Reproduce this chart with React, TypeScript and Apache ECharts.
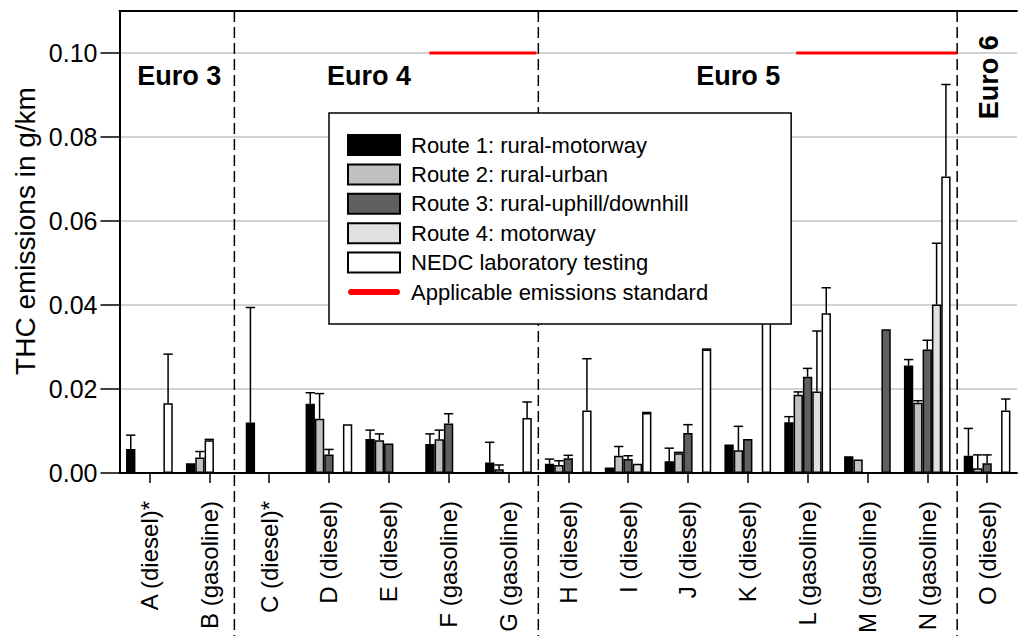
import React, { useEffect, useRef } from "react";
import * as echarts from "echarts";

// Vehicles tested (x-axis categories)
const categories = [
  "A (diesel)*", "B (gasoline)", "C (diesel)*", "D (diesel)", "E (diesel)",
  "F (gasoline)", "G (gasoline)", "H (diesel)", "I (diesel)", "J (diesel)",
  "K (diesel)", "L (gasoline)", "M (gasoline)", "N (gasoline)", "O (diesel)",
];

const seriesNames = [
  "Route 1: rural-motorway",
  "Route 2: rural-urban",
  "Route 3: rural-uphill/downhill",
  "Route 4: motorway",
  "NEDC laboratory testing",
];
const standardName = "Applicable emissions standard";

// Mean THC emissions in g/km (null = not measured)
const route1 = [0.0057, 0.0023, 0.012, 0.0165, 0.0081, 0.0069, 0.0025, 0.0022, 0.0013, 0.0028, 0.0068, 0.0121, 0.004, 0.0256, 0.0041];
const route2 = [null, 0.0037, null, 0.0129, 0.0078, 0.008, 0.0009, 0.0019, 0.0041, 0.0047, 0.0054, 0.0186, 0.0032, 0.0167, 0.0011];
const route3 = [null, 0.0078, null, 0.0044, 0.007, 0.0118, null, 0.0035, 0.0033, 0.0095, 0.0081, 0.0229, null, 0.0294, 0.0023];
const route4 = [null, null, null, null, null, null, null, null, 0.0022, null, null, 0.0194, null, 0.0401, null];
const nedc = [0.0166, null, null, 0.0116, null, null, 0.0131, 0.0149, 0.0143, 0.0294, 0.0466, 0.038, 0.0342, 0.0706, 0.0149];

// Upper end of the error bars in g/km (null = no error bar)
const route1Err = [0.009, null, 0.0394, 0.0191, 0.0102, 0.0093, 0.0073, 0.0033, null, 0.0059, null, 0.0134, null, 0.027, 0.0106];
const route2Err = [null, 0.0051, null, 0.0189, 0.0093, 0.0102, 0.0019, 0.0029, 0.0063, 0.0049, 0.0111, 0.0193, null, 0.0172, 0.0043];
const route3Err = [null, 0.008, null, 0.0056, null, 0.0141, null, 0.0042, 0.0041, 0.0115, null, 0.0249, null, 0.0316, 0.0043];
const route4Err = [null, null, null, null, null, null, null, null, null, null, null, 0.0338, null, 0.0547, null];
const nedcErr = [0.0283, null, null, null, null, null, 0.0169, 0.0272, 0.0144, 0.0295, 0.0623, 0.0441, null, 0.0925, 0.0176];

// Bars shaded with another route's fill: [series index, category index, fill series index]
const fillSwaps = [
  [2, 1, 4],
  [4, 12, 2],
];

// Emission class boundaries and limit segments, in category units
const euroBoundaries = [1.92, 7, 14];
const standardLimit = 0.1;
const standardSegments = [
  [5.18, 6.97],
  [11.31, 14.0],
];
const euroLabels = ["Euro 3", "Euro 4", "Euro 5", "Euro 6"];
const euroLabelAt = [
  [1.0, 0.0946, 0],
  [4.17, 0.0946, 0],
  [10.34, 0.0946, 0],
  [14.54, 0.0942, 90],
];

const yTicks = [0, 0.02, 0.04, 0.06, 0.08, 0.1];
const Y_MAX = 0.11;

const FONT = '"Liberation Sans", Arial, Helvetica, sans-serif';
const fills = ["#000000", "#c0c0c0", "#606060", "#e0e0e0", "#ffffff"];
const CATEGORY_GAP = 0.22;

// Legend glyph for the limit: a thick horizontal bar with rounded ends, centred in a 52x20 box
const LIMIT_ICON =
  "path://M0,0L0,0M52,20L52,20M3,7L49,7C51,7 52,8.5 52,10C52,11.5 51,13 49,13L3,13C1,13 0,11.5 0,10C0,8.5 1,7 3,7Z";

export default function App() {
  const ref = useRef<HTMLDivElement>(null);

  useEffect(() => {
    if (!ref.current) return;
    const chart = echarts.init(ref.current, null, { renderer: "svg" });

    const values = [route1, route2, route3, route4, nedc];
    const errors = [route1Err, route2Err, route3Err, route4Err, nedcErr];

    const barSeries = values.map((arr, s) => ({
      name: seriesNames[s],
      type: "bar",
      xAxisIndex: 0,
      yAxisIndex: 0,
      barGap: "0%",
      barCategoryGap: `${CATEGORY_GAP * 100}%`,
      itemStyle: { color: fills[s], borderColor: "#000", borderWidth: 1.5 },
      emphasis: { disabled: true },
      z: 3,
      data: arr.map((v, i) => {
        if (v === null) return "-";
        const swap = fillSwaps.find((f) => f[0] === s && f[1] === i);
        return swap ? { value: v, itemStyle: { color: fills[swap[2]] } } : v;
      }),
    }));

    const errData: number[][] = [];
    values.forEach((arr, s) => {
      arr.forEach((v, i) => {
        const e = errors[s][i];
        if (v !== null && e !== null) errData.push([i, s, v, e]);
      });
    });

    const errorSeries = {
      type: "custom",
      xAxisIndex: 0,
      yAxisIndex: 0,
      z: 4,
      silent: true,
      encode: { x: 0, y: [2, 3] },
      data: errData,
      renderItem: (_params: any, api: any) => {
        const cat = api.value(0);
        const slot = api.value(1);
        const v = api.value(2);
        const e = api.value(3);
        const band = api.size([1, 0])[0];
        const bw = (band * (1 - CATEGORY_GAP)) / values.length;
        const base = api.coord([cat, v]);
        const cx = base[0] + (slot - (values.length - 1) / 2) * bw;
        const yv = base[1];
        const ye = api.coord([cat, e])[1];
        const st = { stroke: "#000", lineWidth: 1.5 };
        return {
          type: "group",
          children: [
            { type: "line", shape: { x1: cx, y1: yv, x2: cx, y2: ye }, style: st },
            { type: "line", shape: { x1: cx - bw / 2, y1: ye, x2: cx + bw / 2, y2: ye }, style: st },
          ],
        };
      },
    };

    const boundarySeries = {
      type: "custom",
      xAxisIndex: 1,
      yAxisIndex: 0,
      z: 1,
      clip: false,
      silent: true,
      encode: { x: 0 },
      data: euroBoundaries.map((b) => [b]),
      renderItem: (_params: any, api: any) => {
        const x = api.coord([api.value(0), 0])[0];
        const top = api.coord([api.value(0), Y_MAX])[1];
        return {
          type: "line",
          shape: { x1: x, y1: top, x2: x, y2: api.getHeight() },
          style: { stroke: "#000", lineWidth: 1.5, lineDash: [11, 5] },
        };
      },
    };

    const labelSeries = {
      type: "custom",
      xAxisIndex: 1,
      yAxisIndex: 0,
      z: 5,
      silent: true,
      encode: { x: 0, y: 1 },
      data: euroLabelAt.map((p) => [p[0], p[1], p[2]]),
      renderItem: (params: any, api: any) => {
        const pt = api.coord([api.value(0), api.value(1)]);
        return {
          type: "text",
          x: pt[0],
          y: pt[1],
          rotation: (api.value(2) * Math.PI) / 180,
          style: {
            text: euroLabels[params.dataIndex],
            fontFamily: FONT,
            fontWeight: "bold",
            fontSize: 27,
            fill: "#000",
            align: "center",
            verticalAlign: "middle",
            textAlign: "center",
            textVerticalAlign: "middle",
          },
        };
      },
    };

    const standardSeries = standardSegments.map((seg) => ({
      name: standardName,
      type: "line",
      xAxisIndex: 1,
      yAxisIndex: 0,
      symbol: "none",
      silent: true,
      z: 2,
      lineStyle: { color: "#ff0000", width: 3 },
      itemStyle: { color: "#ff0000" },
      data: seg.map((x) => [x, standardLimit]),
    }));

    chart.setOption({
      animation: false,
      backgroundColor: "#ffffff",
      textStyle: { fontFamily: FONT },
      grid: { left: 119.5, right: 2, top: 11, bottom: 160.6, containLabel: false },
      legend: {
        left: 329,
        top: 113,
        orient: "vertical",
        padding: [21, 83, 21, 18],
        itemWidth: 52,
        itemHeight: 20,
        itemGap: 7.4,
        borderColor: "#000",
        borderWidth: 1.5,
        backgroundColor: "#ffffff",
        selectedMode: false,
        z: 10,
        textStyle: { fontSize: 22, fontFamily: FONT, color: "#000", padding: [0, 0, 0, 6] },
        data: [
          ...seriesNames.map((n) => ({ name: n, icon: "rect" })),
          { name: standardName, icon: LIMIT_ICON, itemStyle: { color: "#ff0000", borderWidth: 0 } },
        ],
      },
      xAxis: [
        {
          type: "category",
          data: categories,
          boundaryGap: true,
          axisLine: { show: true, lineStyle: { color: "#000", width: 2 } },
          axisTick: { show: true, alignWithLabel: true, length: 10, lineStyle: { color: "#000", width: 1.5 } },
          axisLabel: { rotate: 90, fontSize: 24, color: "#000", fontFamily: FONT, margin: 28, interval: 0 },
          splitLine: { show: false },
        },
        {
          type: "value",
          min: 0,
          max: categories.length,
          position: "top",
          axisLine: { show: true, onZero: false, lineStyle: { color: "#000", width: 2 } },
          axisTick: { show: false },
          axisLabel: { show: false },
          splitLine: { show: false },
        },
      ],
      yAxis: {
        type: "value",
        min: 0,
        max: Y_MAX,
        interval: 0.02,
        axisLine: { show: true, lineStyle: { color: "#000", width: 2 } },
        axisTick: { show: true, length: 19, customValues: yTicks, lineStyle: { color: "#000", width: 1.5 } },
        axisLabel: {
          fontSize: 25,
          color: "#000",
          fontFamily: FONT,
          margin: 22,
          customValues: yTicks,
          formatter: (v: number) => v.toFixed(2),
        },
        splitLine: { show: true, lineStyle: { color: "#c4c4c4", width: 1.5 } },
      },
      graphic: [
        {
          type: "text",
          x: 25,
          y: 231,
          rotation: Math.PI / 2,
          style: {
            text: "THC emissions in g/km",
            fontFamily: FONT,
            fontSize: 28,
            fill: "#000",
            align: "center",
            verticalAlign: "middle",
          },
        },
      ],
      series: [boundarySeries, ...standardSeries, ...barSeries, errorSeries, labelSeries],
    });

    return () => chart.dispose();
  }, []);

  return <div ref={ref} style={{ position: "absolute", left: 0, top: 0, width: 1019, height: 636 }} />;
}
